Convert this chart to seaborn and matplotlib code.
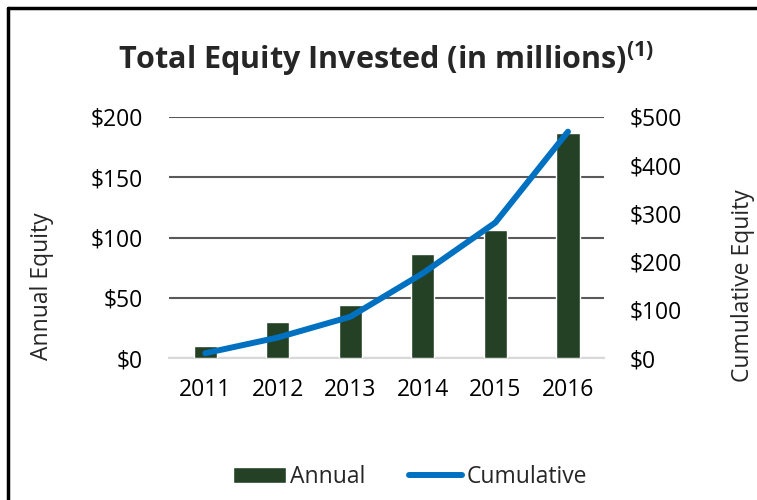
import matplotlib
matplotlib.use("Agg")
import matplotlib.pyplot as plt
from matplotlib.lines import Line2D
import seaborn as sns
import pandas as pd
import numpy as np

# valores (millones)
years = ["2011", "2012", "2013", "2014", "2015", "2016"]
annual = [10.5, 30, 44.5, 86.5, 106.5, 186.5]
cumulative = [10.5, 43, 86, 176, 281, 469]

left_ticks = [0, 50, 100, 150, 200]
right_ticks = [0, 100, 200, 300, 400, 500]

sns.set_theme(style="white")
plt.rcParams["font.family"] = ["Open Sans", "DejaVu Sans"]
plt.rcParams["mathtext.fontset"] = "custom"
plt.rcParams["mathtext.rm"] = "Open Sans"
plt.rcParams["mathtext.bf"] = "Open Sans:bold"

fs = 16.5

df = pd.DataFrame({"year": years, "annual": annual, "cumulative": cumulative,
                   "pos": np.arange(len(years))})

fig = plt.figure(figsize=(7.57, 5.0), dpi=100)
ax = fig.add_axes([0.2232, 0.2834, 0.5750, 0.4832])

sns.barplot(data=df, x="year", y="annual", color="#244125", width=0.32,
            saturation=1, ax=ax, zorder=3, label="Annual")
ax.set_xlim(-0.5, 5.5)
ax.set_ylim(0, 200)
ax.set_yticks(left_ticks)
ax.set_yticklabels([f"${v}" for v in left_ticks])
ax.yaxis.grid(True, color="#595959", linewidth=1.5, zorder=0)
ax.set_axisbelow(True)
for s in ["top", "right", "left"]:
    ax.spines[s].set_visible(False)
ax.spines["bottom"].set_color("#d9d9d9")
ax.spines["bottom"].set_linewidth(1.5)
ax.tick_params(axis="both", length=0, labelsize=fs, colors="black")
ax.tick_params(axis="y", pad=19)
ax.tick_params(axis="x", pad=14)
ax.set_xlabel("")
ax.set_ylabel("Annual Equity", fontsize=fs, va="center")
ax.yaxis.set_label_coords(-0.292, 0.30)

ax2 = ax.twinx()
sns.lineplot(data=df, x="pos", y="cumulative", color="#0070C0", linewidth=4.3,
             ax=ax2, label="Cumulative", legend=False)
ax2.set_xlim(-0.5, 5.5)
ax2.set_ylim(0, 500)
ax2.set_yticks(right_ticks)
ax2.set_yticklabels([f"${v}" for v in right_ticks])
for s in ax2.spines.values():
    s.set_visible(False)
ax2.tick_params(axis="y", length=0, labelsize=fs, pad=18, colors="black")
ax2.set_ylabel("Cumulative Equity", fontsize=fs, rotation=90, va="center")
ax2.yaxis.set_label_coords(1.318, 0.30)
ax2.grid(False)
if ax.get_legend() is not None:
    ax.get_legend().remove()

fig.text(0.51, 0.883, r"Total Equity Invested (in millions)$^{\mathbf{(1)}}$",
         ha="center", va="center", fontsize=22, fontweight="bold")

h1, l1 = ax.get_legend_handles_labels()
h2, l2 = ax2.get_legend_handles_labels()
fig.legend(h1 + h2, l1 + l2, loc="center", bbox_to_anchor=(410 / 757, 1 - 477 / 500),
           ncol=2, frameon=False, fontsize=fs, handlelength=2.3, handletextpad=0.2,
           columnspacing=1.9)

# marco parcial (arriba e izquierda)
fig.add_artist(Line2D([8 / 757, 1], [1 - 8 / 500, 1 - 8 / 500], color="black", linewidth=2.5))
fig.add_artist(Line2D([8 / 757, 8 / 757], [0, 1 - 8 / 500], color="black", linewidth=2.5))

fig.savefig("out.png", dpi=100)
